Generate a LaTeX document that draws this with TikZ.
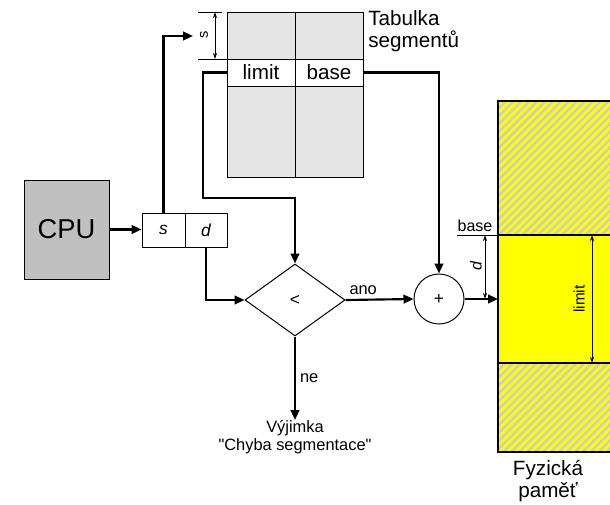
\documentclass[tikz,border=0pt]{standalone}
\usepackage{fontspec}
\setmainfont{Liberation Sans}
\usetikzlibrary{arrows.meta,shapes.geometric,patterns.meta}
\definecolor{cpugray}{RGB}{192,192,192}
\definecolor{tabgray}{RGB}{229,229,229}
\definecolor{hatchgray}{RGB}{204,204,204}
\definecolor{memyellow}{RGB}{255,255,0}
\newcommand{\myfs}[2]{\fontsize{#1}{#2}\selectfont}
\begin{document}
\begin{tikzpicture}[x=0.75pt,y=-0.75pt,
  conn/.style={line width=1.6pt,-{Triangle[length=7.5pt,width=6.5pt]}},
  dimarrow/.style={line width=0.6pt,{Stealth[length=4.5pt,width=3pt]}-{Stealth[length=4.5pt,width=3pt]}},
  thin/.style={line width=0.75pt},
  box/.style={draw,line width=0.75pt,inner sep=0pt},
  lbl/.style={inner sep=0pt},
  hatch/.style={pattern={Lines[angle=45,distance=4.2pt,line width=1.8pt]},pattern color=hatchgray}]

\fill[white] (0,0) rectangle (610,504);
\path[use as bounding box] (0,0) rectangle (610,504);

% segment table
\draw[thin,fill=tabgray] (227,12) rectangle (363,177);
\draw[thin] (295,12) -- (295,59);
\draw[thin] (295,86) -- (295,177);
\node[box,fill=white,minimum width=51pt,minimum height=20.25pt,font=\myfs{15.5}{17}] (lim) at (261,72.5) {limit};
\node[box,fill=white,minimum width=51pt,minimum height=20.25pt,font=\myfs{15.5}{17}] (bas) at (329,72.5) {base};
\node[lbl,anchor=west,align=left,font=\myfs{15.5}{16.5}] (tabl) at (368,31) {Tabulka\\segmentů};

% s dimension
\draw[line width=0.6pt] (198,12) -- (222,12);
\draw[line width=0.6pt] (198,59) -- (227,59);
\draw[dimarrow] (215,12) -- (215,59);
\node[lbl,rotate=90,font=\myfs{11}{12}] (sdim) at (204,35) {s};

% CPU and logical address
\node[box,fill=cpugray,minimum width=63.75pt,minimum height=74.25pt,font=\myfs{20.5}{24}] (cpu) at (66.5,229.5) {CPU};
\node[box,minimum width=32.25pt,minimum height=25.5pt,font=\myfs{13}{15}\itshape] (scell) at (163.5,230) {s};
\node[box,minimum width=31.5pt,minimum height=25.5pt,font=\myfs{13}{15}\itshape] (dcell) at (206,230) {d};

% comparator and adder
\node[draw,diamond,line width=0.75pt,minimum width=75pt,minimum height=54pt,inner sep=0pt,font=\myfs{13}{15}] (cmp) at (295,300) {<};
\node[draw,circle,line width=0.75pt,minimum size=37.5pt,inner sep=0pt,font=\myfs{13}{15}] (add) at (439,299) {+};
\node[lbl,align=center,anchor=north,font=\myfs{12.3}{13.5}] (exc) at (295,420) {Výjimka\\\textquotedbl Chyba segmentace\textquotedbl};

\coordinate (stab) at (193,36);
\coordinate (memin) at (498,299);

% connectors
\draw[conn] (cpu.east) -- (cpu.east -| scell.west);
\draw[conn] (scell.north) |- (stab);
\draw[conn] (lim.west) -- (203,72.5) -- (203,198) -| (cmp.north);
\draw[conn] (dcell.south) |- (cmp.west);
\draw[conn] (bas.east) -| (add.north);
\draw[conn] (cmp.east) -- node[pos=0.26,above=3pt,lbl,font=\myfs{12.3}{14}] {ano} (add.west);
\draw[conn] (cmp.south) -- node[pos=0.5,right=3pt,lbl,font=\myfs{12.3}{14}] {ne} (exc.north);
\draw[conn] (add.east) -- (memin);

% physical memory
\fill[memyellow] (498,101) rectangle (610,452);
\fill[hatch] (498,101) rectangle (610,235);
\fill[hatch] (498,363) rectangle (610,452);
\draw[line width=1.2pt] (610,101) -- (498,101) -- (498,452) -- (610,452);
\draw[line width=1.2pt] (498,235) -- (610,235);
\draw[line width=1.2pt] (498,363) -- (610,363);
\draw[thin] (457,235) -- (498,235);
\node[lbl,font=\myfs{12}{14}] (baselbl) at (475,226) {base};
\draw[dimarrow] (485,235) -- (485,299);
\node[lbl,rotate=90,font=\myfs{12}{14}\itshape] (ddim) at (476,266) {d};
\draw[dimarrow] (592,235) -- (592,363);
\node[lbl,rotate=90,font=\myfs{11.5}{13}] (limdim) at (579,299) {limit};
\node[lbl,align=center,font=\myfs{15.5}{17}] (mem) at (548,481) {Fyzická\\paměť};
\end{tikzpicture}
\end{document}
